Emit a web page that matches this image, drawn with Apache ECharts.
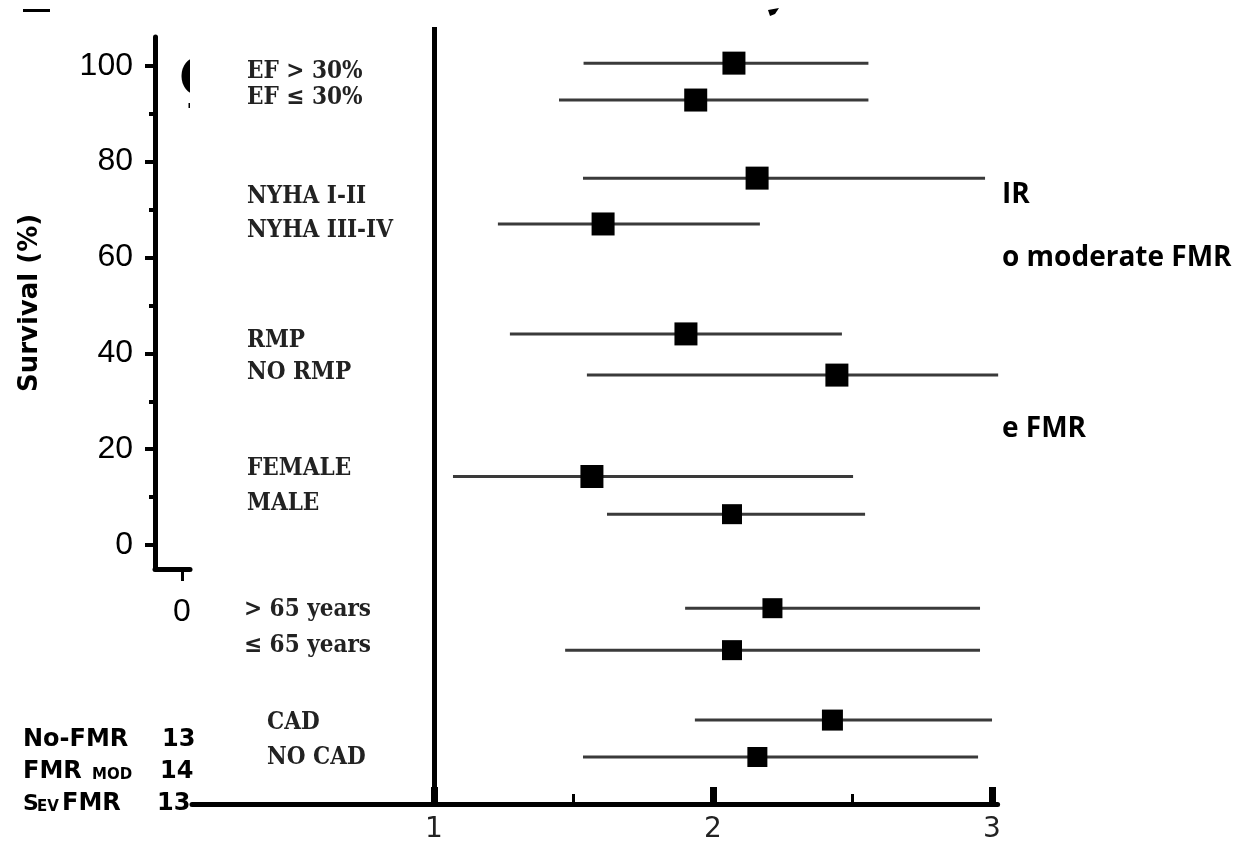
<!DOCTYPE html>
<html><head><meta charset="utf-8">
<script src="https://cdn.jsdelivr.net/npm/echarts@6/dist/echarts.min.js"></script>
<style>html,body{margin:0;padding:0;background:#fff}#c{width:1240px;height:845px}</style>
</head><body><div id="c"></div>
<script>
// ---------- Forest plot data ----------
const subgroups = ['EF > 30%','EF ≤ 30%','NYHA I-II','NYHA III-IV','RMP','NO RMP','FEMALE','MALE','> 65 years','≤ 65 years','CAD','NO CAD'];
const estimate  = [2.075,1.938,2.158,1.606,1.903,2.444,1.566,2.068,2.213,2.068,2.428,2.159];
const lower     = [1.536,1.448,1.534,1.229,1.272,1.548,1.068,1.620,1.900,1.470,1.935,1.534];
const upper     = [2.557,2.557,2.975,2.168,2.462,3.022,2.502,2.545,2.957,2.957,3.000,2.950];
const rowPos    = [0.93,1.88,3.89,5.07,7.90,8.96,11.57,12.54,14.96,16.04,17.84,18.79];
const weight    = [1.15,1.15,1.15,1.15,1.15,1.15,1.15,1.0,1.0,1.0,1.05,1.0];
const refValue  = 1;
const forestMajorTicks = [1,2,3];
const forestMinorTicks = [1.5,2.5];
// ---------- Background survival panel ----------
const survivalTicks = [0,20,40,60,80,100];
const survivalMinorTicks = [10,30,50,70,90];
const timeTicks = [0];
const riskCounts = ['13','14','13'];
const legendFragments = ['IR','o moderate FMR','e FMR'];

const forestData = subgroups.map((s,i)=>[rowPos[i], lower[i], upper[i], estimate[i], weight[i]]);

const chart = echarts.init(document.getElementById('c'), null, {renderer:'canvas'});
const serifFont = '"DejaVu Serif Condensed", "DejaVu Serif", serif';
const labelPos = [[247,72],[247,98],[247,197],[247,231],[247,341],[247,373],[247,469],[247,504],[244,610],[244,646],[267,723],[267,758]];

const graphics = [
  {type:'ellipse', z:0, shape:{cx:196, cy:76, rx:14.5, ry:18.5}, style:{fill:'#000'}},
  {type:'rect', z:0, shape:{x:188.5, y:103, width:1.5, height:5}, style:{fill:'#000'}},
  {type:'rect', z:1, shape:{x:190, y:40, width:50, height:90}, style:{fill:'#fff'}},
  {type:'rect', z:1, shape:{x:23, y:9, width:27, height:3}, style:{fill:'#000'}},
  {type:'polygon', z:1, shape:{points:[[768,10],[779,8],[775,14],[770,16]]}, style:{fill:'#000'}},
];
subgroups.forEach((s,i)=>{
  graphics.push({type:'text', z:5, x:labelPos[i][0], y:labelPos[i][1],
    style:{text:s, font:'bold 24px '+serifFont, fill:'#222', textVerticalAlign:'middle', textAlign:'left'}});
});
// risk table (partially hidden in the original)
const riskY = [740,772,804];
const big = 'bold 24px "DejaVu Sans"', small = 'bold 15px "DejaVu Sans"';
graphics.push({type:'text', z:5, x:23, y:riskY[0], style:{text:'No-FMR', font:big, fill:'#000', textVerticalAlign:'middle'}});
graphics.push({type:'text', z:5, x:23, y:riskY[1], style:{text:'FMR', font:big, fill:'#000', textVerticalAlign:'middle'}});
graphics.push({type:'text', z:5, x:92, y:riskY[1]+3, style:{text:'MOD', font:small, fill:'#000', textVerticalAlign:'middle'}});
graphics.push({type:'text', z:5, x:23, y:riskY[2], style:{text:'S', font:'bold 22px "DejaVu Sans"', fill:'#000', textVerticalAlign:'middle'}});
graphics.push({type:'text', z:5, x:37, y:riskY[2]+3, style:{text:'EV', font:small, fill:'#000', textVerticalAlign:'middle'}});
graphics.push({type:'text', z:5, x:62, y:riskY[2], style:{text:'FMR', font:big, fill:'#000', textVerticalAlign:'middle'}});
const countX = [162,160,157];
riskCounts.forEach((c,i)=>graphics.push({type:'text', z:5, x:countX[i], y:riskY[i], style:{text:c, font:big, fill:'#000', textVerticalAlign:'middle'}}));
// legend fragments at right
const legY = [195,258,429];
legendFragments.forEach((t,i)=>graphics.push({type:'text', z:5, x:1002, y:legY[i], style:{text:t, font:'bold 28px "Open Sans"', fill:'#000', textVerticalAlign:'middle'}}));

const option = {
  backgroundColor:'#fff',
  animation:false,
  grid:[
    {left:155, top:37, width:35, height:532},
    {left:192, top:27, width:805.6, height:777}
  ],
  xAxis:[
    {gridIndex:0, type:'value', min:-1, max:0.3, position:'bottom', splitLine:{show:false},
     axisLine:{show:true, onZero:false, lineStyle:{color:'#000', width:5}},
     axisTick:{show:true, customValues:timeTicks, length:12, lineStyle:{color:'#000', width:3}},
     axisLabel:{customValues:timeTicks, color:'#000', fontSize:32, fontFamily:'"Liberation Sans", Arial', margin:27}},
    {gridIndex:1, type:'value', min:0.1326, max:3.02, z:3, position:'bottom', splitLine:{show:false},
     axisLine:{show:true, onZero:false, lineStyle:{color:'#000', width:5}},
     axisTick:{show:true, inside:true, customValues:forestMajorTicks, length:17, lineStyle:{color:'#000', width:7}},
     axisLabel:{customValues:forestMajorTicks, color:'#222', fontSize:28, fontFamily:'"DejaVu Sans"', margin:12}},
    {gridIndex:1, type:'value', min:0.1326, max:3.02, z:3, position:'bottom', offset:0, splitLine:{show:false},
     axisLine:{show:false, onZero:false},
     axisTick:{show:true, inside:true, customValues:forestMinorTicks, length:10, lineStyle:{color:'#000', width:3}},
     axisLabel:{show:false}}
  ],
  yAxis:[
    {gridIndex:0, type:'value', min:-5, max:106, position:'left', splitLine:{show:false},
     name:'Survival (%)', nameLocation:'middle', nameGap:112, nameRotate:90,
     nameTextStyle:{color:'#000', fontSize:26, fontWeight:'bold', fontFamily:'"DejaVu Sans"'},
     axisLine:{show:true, onZero:false, lineStyle:{color:'#000', width:5}},
     axisTick:{show:true, customValues:survivalTicks, length:10, lineStyle:{color:'#000', width:4}},
     axisLabel:{customValues:survivalTicks, color:'#000', fontSize:32, fontFamily:'"Liberation Sans", Arial', margin:22}},
    {gridIndex:0, type:'value', min:-5, max:106, position:'left', offset:0, splitLine:{show:false},
     axisLine:{show:false, onZero:false},
     axisTick:{show:true, customValues:survivalMinorTicks, length:6, lineStyle:{color:'#000', width:4}},
     axisLabel:{show:false}},
    {gridIndex:1, type:'value', min:0, max:20, inverse:true, show:false}
  ],
  graphic:{elements:graphics},
  series:[
    {type:'line', xAxisIndex:0, yAxisIndex:0, data:[], silent:true},
    {type:'custom', xAxisIndex:1, yAxisIndex:2, z:4, clip:false, silent:true,
     encode:{x:[1,2,3], y:0},
     data:forestData,
     renderItem:function(params, api){
       const y = api.value(0), lo = api.value(1), hi = api.value(2), est = api.value(3), w = api.value(4);
       const p1 = api.coord([lo,y]), p2 = api.coord([hi,y]), pc = api.coord([est,y]);
       const s = 20*w;
       return {type:'group', children:[
         {type:'line', shape:{x1:p1[0], y1:p1[1], x2:p2[0], y2:p2[1]}, style:{stroke:'#3a3a3a', lineWidth:3}},
         {type:'rect', shape:{x:pc[0]-s/2, y:pc[1]-s/2, width:s, height:s}, style:{fill:'#000'}}
       ]};
     },
     markLine:{silent:true, symbol:['none','none'], label:{show:false}, animation:false,
       lineStyle:{color:'#000', width:5, type:'solid'}, data:[{xAxis:refValue}]}
    }
  ]
};
chart.setOption(option);
</script></body></html>
